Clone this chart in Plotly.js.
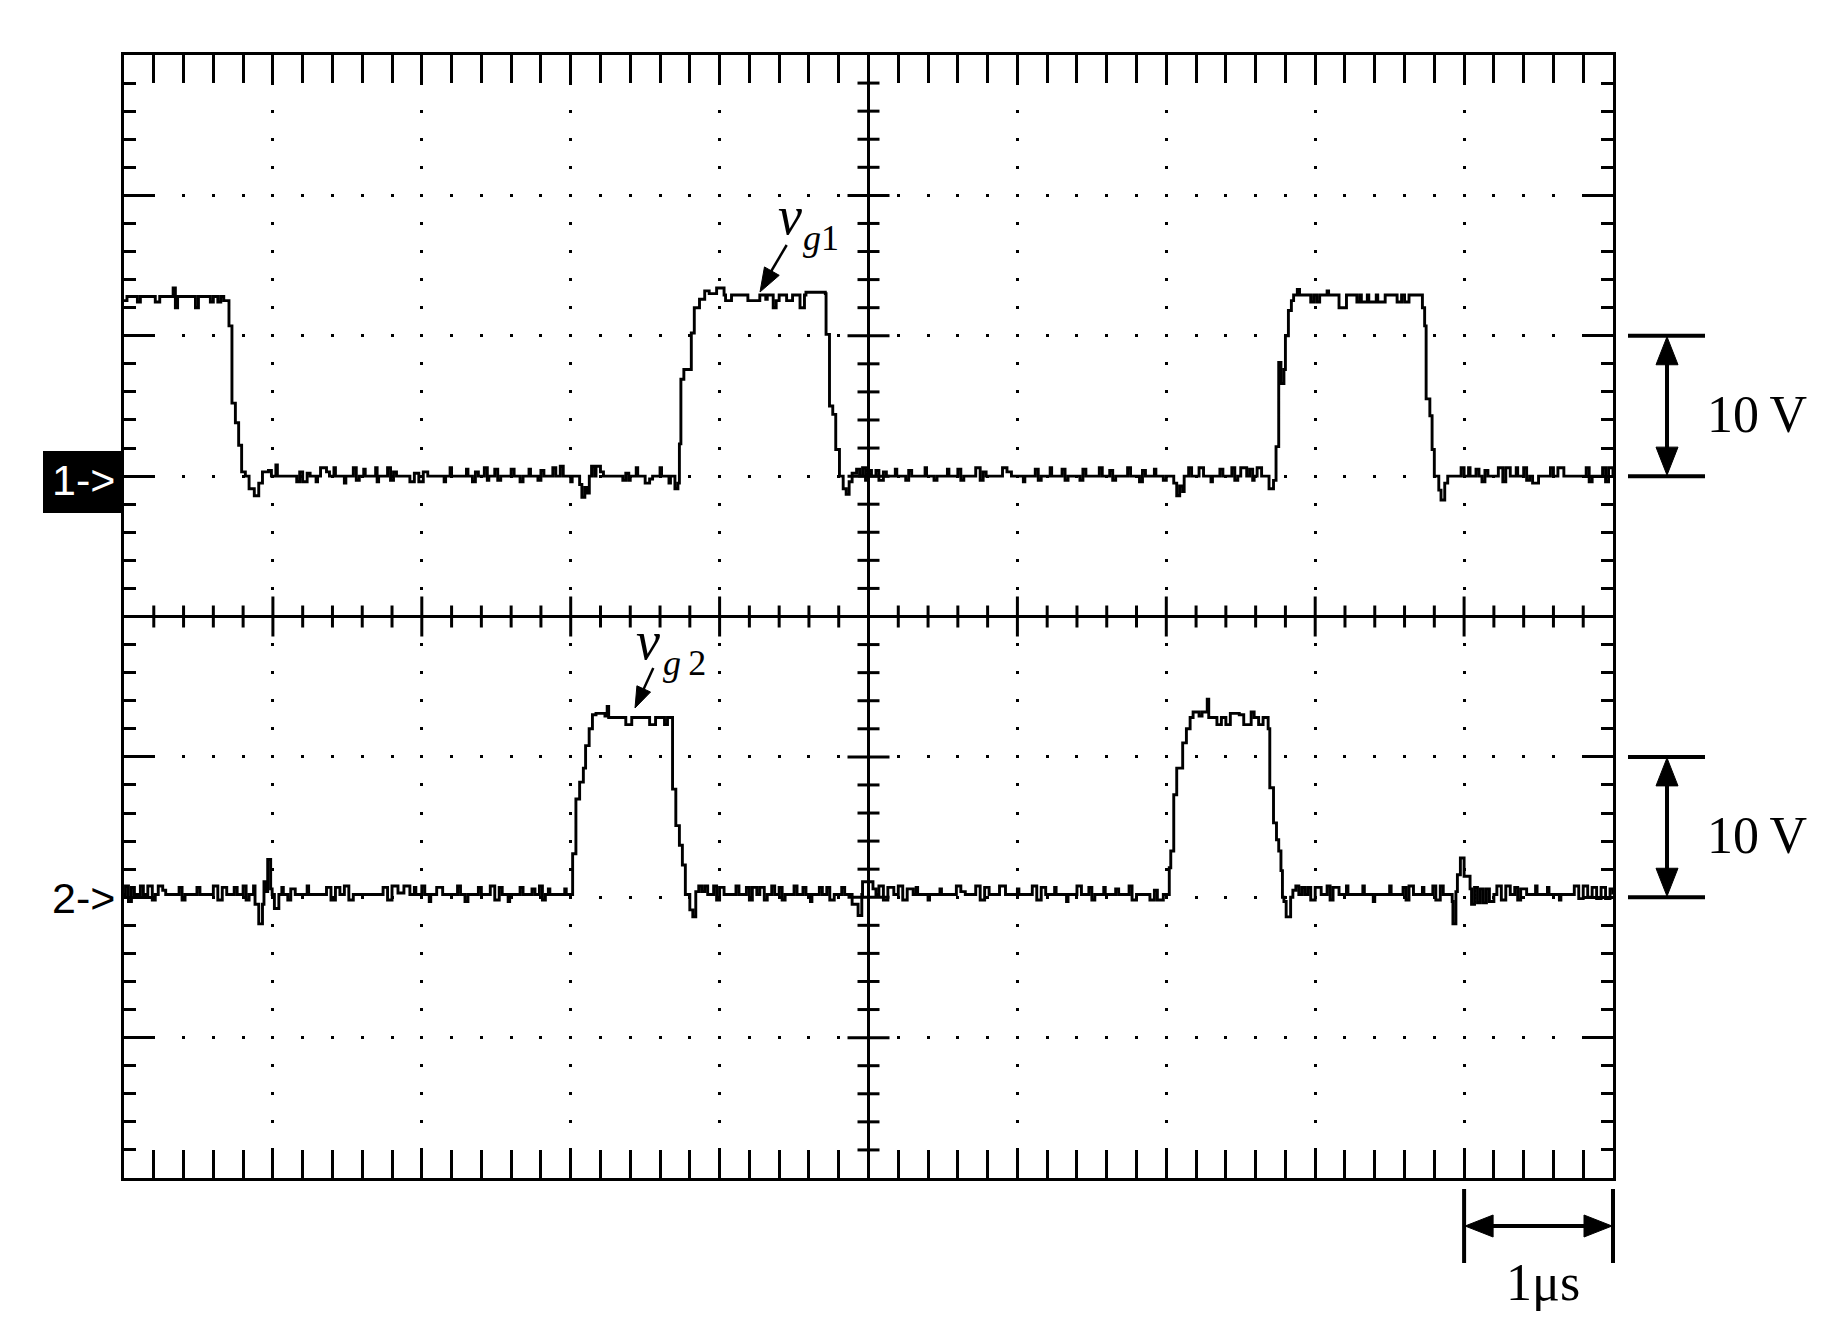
<!DOCTYPE html>
<html><head><meta charset="utf-8">
<script src="https://cdn.plot.ly/plotly-3.0.1.min.js"></script>
<style>html,body{margin:0;padding:0;background:#fff;}#chart{width:1827px;height:1319px;}</style>
</head><body><div id="chart"></div>
<script>
// ---------------- data (time in µs, voltage in V) ----------------
const ch1_t = [0,0.02,0.09,0.11,0.21,0.24,0.33,0.345,0.36,0.48,0.50,0.58,0.60,0.63,0.65,0.67,
 0.705,0.725,0.748,0.77,0.79,0.815,0.84,0.875,0.905,0.93,0.97,
 0.99,1.02,1.03,1.16,1.18,1.20,1.23,1.25,1.29,1.30,1.32,1.36,1.38,1.41,1.42,1.48,1.49,1.54,1.56,1.58,1.61,1.62,1.69,1.70,1.71,1.77,1.79,1.81,1.83,1.92,1.95,1.98,2.01,2.04,2.15,2.16,2.19,2.20,2.30,2.31,2.34,2.36,2.38,2.42,2.44,2.45,2.49,2.51,2.53,2.60,2.62,2.66,2.68,2.72,2.73,2.78,2.80,2.82,2.88,2.90,2.93,2.95,3.00,3.01,3.06,3.075,3.095,3.11,3.125,3.14,3.16,3.17,3.20,3.22,3.35,3.37,3.39,3.40,3.44,3.45,3.50,3.53,3.55,3.60,3.61,3.66,3.67,3.70,3.72,
 3.73,3.74,3.76,3.81,3.83,3.865,3.90,3.93,
 3.98,4.03,4.04,4.08,4.19,4.27,4.31,4.32,4.36,4.38,4.40,4.45,4.49,4.54,4.57,4.58,4.71,
 4.715,4.738,4.76,4.78,4.805,4.83,4.85,4.87,4.89,4.92,4.94,
 4.96,4.98,5.00,5.02,5.05,5.07,5.10,5.12,5.18,5.19,5.25,5.27,5.29,5.38,5.39,5.44,5.46,5.53,5.54,5.60,5.62,5.64,5.72,5.75,5.77,5.79,5.90,5.93,5.96,6.04,6.05,6.12,6.14,6.16,6.22,6.23,6.30,6.32,6.34,6.42,6.44,6.46,6.55,6.57,6.62,6.64,6.66,6.74,6.76,6.82,6.84,6.86,6.92,6.93,6.98,7.00,7.05,7.07,7.09,7.11,7.12,7.15,7.17,7.22,7.25,7.30,7.31,7.36,7.38,7.44,7.46,7.48,7.50,7.54,7.56,7.58,7.59,7.61,7.64,7.69,7.72,
 7.737,7.755,7.77,7.79,7.80,7.82,7.84,7.855,7.88,7.895,
 7.97,7.99,8.01,8.03,8.05,8.08,8.09,8.16,8.21,8.28,8.30,8.31,8.35,8.36,8.41,8.42,8.47,8.55,8.58,8.60,8.63,8.67,
 8.72,8.735,8.745,8.77,8.785,8.80,8.83,8.845,8.87,8.89,8.93,8.98,9.00,9.03,9.04,9.08,9.10,9.12,9.14,9.16,9.23,9.26,9.28,9.31,9.35,9.36,9.40,9.42,9.44,9.46,9.50,9.58,9.60,9.63,9.67,9.82,9.84,9.86,9.93,9.95,9.97,10.0];
const ch1_v = [12.5,12.8,12.4,12.8,12.4,12.8,13.4,12.0,12.8,12.0,12.8,12.4,12.8,12.4,12.8,12.5,
 10.7,5.2,3.8,2.2,0.3,0.0,-0.9,-1.4,-0.5,0.3,0.4,
 0.0,0.8,0.0,-0.4,0.3,-0.4,0.2,0.0,-0.4,0.0,0.6,0.3,0.0,0.6,0.0,-0.5,0.0,0.6,-0.3,0.0,0.5,0.0,0.6,-0.4,0.0,0.6,-0.3,0.3,0.0,-0.4,0.2,-0.4,0.3,0.0,-0.4,0.0,0.6,0.0,0.5,0.0,-0.4,0.3,0.0,0.6,-0.3,0.0,0.5,-0.3,0.0,0.5,0.0,-0.4,0.0,0.5,0.0,-0.3,0.4,0.0,0.6,0.0,0.7,0.0,-0.4,0.0,-0.6,-1.5,-0.8,-1.2,0.0,0.7,0.0,0.7,0.3,0.0,-0.3,0.2,-0.3,0.0,0.6,0.0,-0.5,-0.2,0.0,0.6,0.0,-0.5,0.0,-0.9,-0.5,
 2.3,6.9,7.6,10.2,12.0,12.6,13.2,13.0,
 13.4,12.9,12.5,12.9,12.5,12.9,12.6,12.9,12.0,12.5,12.9,12.5,12.9,12.0,12.9,13.1,13.0,
 10.1,5.0,4.4,1.9,0.0,-0.9,-1.3,-0.4,0.2,0.5,0.0,
 0.6,-0.3,0.4,0.0,0.4,-0.3,0.3,0.0,0.5,0.0,-0.3,0.4,0.0,0.6,0.0,-0.3,0.0,0.5,0.0,0.5,-0.3,0.0,0.6,-0.3,0.3,0.0,0.6,0.3,0.0,-0.4,0.0,0.5,-0.3,0.0,0.6,0.0,0.5,-0.3,0.0,-0.3,0.5,0.0,0.6,0.0,0.4,-0.3,0.0,0.6,0.0,-0.4,0.4,0.0,0.5,0.0,-0.3,0.0,-0.5,-1.4,-0.7,-1.1,0.0,0.6,0.0,0.6,0.0,-0.4,0.0,0.5,0.0,0.6,-0.3,0.0,0.6,0.0,0.5,-0.3,0.0,0.6,0.0,-0.9,-0.3,
 2.1,8.1,6.6,7.6,10.0,11.8,12.5,12.9,13.3,12.9,
 12.4,12.9,12.4,12.9,12.9,13.2,12.9,12.0,12.9,12.4,12.9,12.4,12.9,12.4,12.9,12.4,12.9,12.4,12.9,12.4,12.9,12.9,
 12.0,10.7,5.5,4.3,1.9,0.0,-1.0,-1.7,-0.5,0.0,0.0,0.6,0.0,0.6,0.0,0.5,0.0,-0.4,0.4,0.0,0.6,-0.4,0.6,0.0,0.6,0.0,0.6,-0.3,0.0,-0.5,0.0,0.6,0.0,0.6,0.0,0.6,-0.4,0.0,0.6,-0.4,0.6,0.0];

const ch2_t = [0,0.01,0.03,0.05,0.07,0.11,0.13,0.16,0.19,0.21,0.23,0.26,0.28,0.37,0.39,0.41,0.49,0.51,0.60,0.63,0.66,0.69,0.74,0.76,0.80,0.82,0.84,0.87,0.88,0.905,0.93,0.94,0.955,0.965,0.985,0.995,1.01,1.04,1.06,1.07,1.10,1.12,1.15,1.23,1.24,1.36,1.39,1.42,1.45,1.48,1.51,1.54,1.74,1.77,1.80,1.84,1.88,1.92,1.95,1.96,2.00,2.02,2.05,2.06,2.10,2.14,2.24,2.26,2.29,2.31,2.38,2.40,2.46,2.49,2.52,2.54,2.58,2.59,2.66,2.68,2.74,2.76,2.79,2.81,2.83,2.85,2.86,2.96,2.97,
 3.013,3.035,3.06,3.085,3.10,3.124,3.146,3.17,3.23,3.245,3.255,3.37,3.41,3.53,3.57,3.63,3.65,
 3.684,3.706,3.73,3.75,3.77,3.80,3.82,3.84,3.86,3.88,3.90,3.92,
 3.96,3.98,4.00,4.03,4.11,4.13,4.18,4.20,4.22,4.25,4.27,4.30,4.32,4.35,4.37,4.40,4.42,4.44,4.50,4.52,4.56,4.58,4.61,4.62,4.67,4.69,4.72,4.74,4.77,4.82,4.84,4.89,4.93,4.955,4.96,5.03,5.05,5.07,5.10,5.13,5.17,5.20,5.23,5.26,5.30,5.32,5.33,5.40,5.41,5.48,5.49,5.59,5.62,5.65,5.72,5.75,5.78,5.81,5.88,5.92,6.00,6.01,6.10,6.13,6.16,6.19,6.25,6.26,6.33,6.34,6.40,6.43,6.48,6.50,6.52,6.58,6.59,6.66,6.68,6.75,6.77,6.80,6.89,6.92,6.94,6.98,
 7.02,7.03,7.05,7.07,7.11,7.135,7.16,7.18,7.22,7.24,7.275,7.285,7.34,7.37,7.40,7.43,7.49,7.52,7.57,7.59,7.62,7.65,
 7.684,7.695,7.72,7.74,7.755,7.77,7.78,7.79,7.805,7.835,7.85,7.87,7.89,7.91,7.93,7.95,7.97,8.00,8.04,8.08,8.10,8.12,8.16,8.21,8.22,8.32,8.33,8.39,8.40,8.50,8.51,8.59,8.61,8.63,8.66,8.72,8.73,8.79,8.81,8.84,8.86,8.92,8.925,8.945,8.955,8.975,9.00,9.04,9.05,9.07,9.09,9.11,9.13,9.15,9.17,9.20,9.22,9.25,9.28,9.31,9.34,9.36,9.38,9.42,9.48,9.49,9.56,9.57,9.64,9.65,9.74,9.77,9.80,9.83,9.86,9.89,9.92,9.95,9.98,10.0];
const ch2_v = [0.2,0.8,-0.3,0.7,0.2,0.8,0.2,0.8,-0.2,0.2,0.8,0.5,0.2,0.7,-0.2,0.2,0.7,0.2,0.8,-0.2,0.7,0.2,0.7,0.2,0.8,-0.2,0.2,0.8,-0.5,-1.9,-0.5,1.1,0.4,2.7,0.6,0.2,-0.8,0.2,0.7,0.2,-0.2,0.6,0.2,0.8,0.2,0.7,-0.2,0.7,0.2,0.8,-0.2,0.2,0.7,-0.2,0.8,0.3,0.8,0.2,0.7,0.2,0.8,0.2,-0.3,0.2,0.7,0.2,0.8,0.2,-0.3,0.2,0.7,0.2,0.8,-0.2,0.7,0.2,-0.3,0.2,0.7,0.2,0.6,0.2,0.8,-0.2,0.2,0.6,0.2,0.6,0.2,
 3.1,7.0,8.2,9.2,10.8,12.0,13.0,13.1,12.9,13.6,12.8,12.3,12.8,12.3,12.8,12.3,12.8,
 7.7,5.1,3.7,2.3,0.2,-0.9,-1.4,0.4,0.8,0.4,0.8,0.2,
 0.8,-0.2,0.7,0.2,0.8,0.2,0.7,-0.2,0.7,0.2,0.7,-0.2,0.2,0.8,0.2,0.7,-0.2,0.2,0.8,0.2,0.7,0.2,-0.3,0.2,0.7,0.2,0.7,-0.2,0.2,0.7,0.2,-0.5,-1.3,0.2,1.1,0.6,0.2,0.8,-0.2,0.7,0.2,0.8,-0.2,0.6,0.2,0.7,0.2,-0.2,0.2,0.6,0.2,0.8,0.4,0.2,0.8,-0.2,0.7,0.2,0.8,0.2,0.6,0.2,0.8,-0.2,0.7,0.2,0.7,0.2,-0.3,0.2,0.8,0.2,0.7,-0.2,0.2,0.7,0.2,0.6,0.2,0.8,-0.2,0.2,-0.2,0.5,-0.2,0.2,
 2.1,3.3,7.3,9.2,11.0,12.0,12.8,13.2,12.9,13.2,14.1,12.8,12.3,12.8,12.3,13.1,13.0,12.3,13.2,12.8,12.3,12.8,
 12.0,7.8,5.3,4.1,3.3,1.9,0.0,-0.3,-1.4,0.0,0.5,0.8,0.2,0.7,0.2,0.7,-0.2,0.7,0.2,0.8,-0.2,0.7,0.2,0.8,0.2,0.8,0.2,-0.3,0.2,0.8,0.2,0.7,-0.2,0.8,0.2,0.7,0.2,0.8,-0.2,0.8,0.2,-0.3,-1.9,0.4,1.6,2.8,1.5,0.6,-0.5,0.7,-0.4,0.6,-0.4,0.6,-0.3,0.2,0.8,-0.2,0.8,0.2,0.7,-0.2,0.6,0.2,0.8,0.2,0.7,0.2,-0.2,0.2,0.8,-0.1,0.8,0.0,0.7,-0.1,0.7,-0.1,0.6,0.2];

const time_range = [0, 10];      // µs (1 µs/div)
const ch1_range = [-50, 30];     // V (10 V/div), channel 1 ground 3 div below top
const ch2_range = [-20, 60];     // V (10 V/div), channel 2 ground 2 div above bottom
const volt_scale = 10;           // V per div
const time_scale = 1;            // µs per div
const ch_markers = ['1->', '2->'];
const scale_labels = ['10\u2009V', '1\u03bcs'];
const trace_labels = [['v','g','1'], ['v','g','2']];

// ---------------- geometry ----------------
const L = 124, T = 55, W = 1489, H = 1123, B = T + H;
const fx = t => L + (t - time_range[0]) / (time_range[1] - time_range[0]) * W;
const fy1 = v => T + (ch1_range[1] - v) / (ch1_range[1] - ch1_range[0]) * H;
const fy2 = v => T + (ch2_range[1] - v) / (ch2_range[1] - ch2_range[0]) * H;
const PX = x => (x - L) / W, PY = y => (B - y) / H;

const shapes = [];
function seg(x0, y0, x1, y1, w) {
  shapes.push({type:'line', xref:'paper', yref:'paper', x0:PX(x0), y0:PY(y0), x1:PX(x1), y1:PY(y1),
    line:{color:'black', width:w}});
}
function head(tx, ty, sx, sy, len, wid) {
  const dx = sx - tx, dy = sy - ty, d = Math.hypot(dx, dy), ux = dx / d, uy = dy / d;
  const bx = tx + ux * len, by = ty + uy * len, nx = -uy * wid / 2, ny = ux * wid / 2;
  const p = [[tx, ty], [bx + nx, by + ny], [bx - nx, by - ny]];
  shapes.push({type:'path', xref:'paper', yref:'paper',
    path:'M' + p.map(q => PX(q[0]) + ',' + PY(q[1])).join('L') + 'Z',
    fillcolor:'black', line:{color:'black', width:1}});
}

// centre crosshair (solid) with ticks every 0.2 div
const xc = (time_range[0] + time_range[1]) / 2, yc = (ch1_range[0] + ch1_range[1]) / 2;
shapes.push({type:'line', xref:'x', yref:'paper', x0:xc, x1:xc, y0:0, y1:1, line:{color:'black', width:3}});
shapes.push({type:'line', xref:'paper', yref:'y', x0:0, x1:1, y0:yc, y1:yc, line:{color:'black', width:3}});
for (let i = 1; i < 50; i++) {
  if (i === 25) continue;
  const t = time_range[0] + i * 0.2 * time_scale, len = (i % 5 === 0) ? 20 : 11;
  shapes.push({type:'line', xref:'x', yref:'y', x0:t, x1:t, ysizemode:'pixel', yanchor:yc, y0:-len, y1:len,
    line:{color:'black', width:3}});
}
for (let i = 1; i < 40; i++) {
  if (i === 20) continue;
  const v = ch1_range[0] + i * 0.2 * volt_scale, len = (i % 5 === 0) ? 21 : 11;
  shapes.push({type:'line', xref:'x', yref:'y', y0:v, y1:v, xsizemode:'pixel', xanchor:xc, x0:-len, x1:len,
    line:{color:'black', width:3}});
}

// channel marker box
shapes.push({type:'rect', xref:'paper', yref:'paper', x0:PX(43), x1:PX(123), y0:PY(451), y1:PY(513),
  fillcolor:'black', line:{width:0}});

// 10 V scale bars (channel 1 and 2)
function vbar(yTop, yBot) {
  seg(1628, yTop, 1705, yTop, 4);
  seg(1628, yBot, 1705, yBot, 4);
  seg(1667, yTop + 20, 1667, yBot - 20, 4);
  head(1667, yTop + 1, 1667, yBot, 28, 22);
  head(1667, yBot - 1, 1667, yTop, 28, 22);
}
vbar(fy1(volt_scale), fy1(0));
vbar(fy2(volt_scale), fy2(0));
// 1 µs bar
const xa = fx(time_range[1] - time_scale), xb = fx(time_range[1]);
seg(xa, 1189, xa, 1263, 4);
seg(xb, 1189, xb, 1263, 4);
seg(xa + 20, 1226, xb - 20, 1226, 4);
head(xa + 1, 1226, xb, 1226, 28, 22);
head(xb - 1, 1226, xa, 1226, 28, 22);

// pointer arrows for v_g1 / v_g2
seg(786.7, 245, 766, 280, 2.5);
head(760, 292, 786.7, 245, 24, 17);
seg(653.3, 668, 640, 697, 2.5);
head(635, 708, 653.3, 668, 21, 15);

const serif = 'Liberation Serif, Times New Roman, serif';
const sans = 'Liberation Sans, Arial, sans-serif';
const ann = (x, y, text, size, family, color, xanchor) => ({xref:'paper', yref:'paper', x:PX(x), y:PY(y),
  text, showarrow:false, xanchor:xanchor || 'center', yanchor:'middle', font:{family, size, color:color || 'black'}});

const annotations = [
  ann(83, 480, ch_markers[0], 43, sans, 'white'),
  ann(83, 898, ch_markers[1], 43, sans),
  ann(1757, 414, scale_labels[0], 52, serif),
  ann(1757, 835, scale_labels[0], 52, serif),
  ann(1543, 1282, scale_labels[1], 52, serif),
  ann(790, 216, '<i>' + trace_labels[0][0] + '</i>', 54, serif),
  ann(801, 238, '<i>' + trace_labels[0][1] + '</i>' + trace_labels[0][2], 36, serif, 'black', 'left'),
  ann(648, 641, '<i>' + trace_labels[1][0] + '</i>', 54, serif),
  ann(661, 663, '<i>' + trace_labels[1][1] + '</i>\u2009' + trace_labels[1][2], 36, serif, 'black', 'left')
];

const axBase = {showline:true, linecolor:'black', linewidth:3, mirror:'allticks', ticks:'inside',
  tickcolor:'black', tickwidth:3, showticklabels:false, zeroline:false, showgrid:true,
  gridcolor:'black', gridwidth:3, fixedrange:true};

const layout = {
  width:1827, height:1319, autosize:false,
  margin:{l:L, r:1827 - L - W, t:T, b:1319 - B, pad:0},
  paper_bgcolor:'white', plot_bgcolor:'white', showlegend:false,
  xaxis: Object.assign({}, axBase, {range:time_range, tick0:0, dtick:time_scale, ticklen:28,
    griddash:'1.5px,25.075px,1.5px,0px',
    minor:{dtick:0.2 * time_scale, ticks:'inside', ticklen:13, tickwidth:3, tickcolor:'black', showgrid:false}}),
  yaxis: Object.assign({}, axBase, {range:ch1_range, tick0:0, dtick:volt_scale, ticklen:31,
    griddash:'1.5px,26.78px,1.5px,0px',
    minor:{dtick:0.2 * volt_scale, ticks:'inside', ticklen:12, tickwidth:3, tickcolor:'black', showgrid:false}}),
  yaxis2: {overlaying:'y', range:ch2_range, showgrid:false, zeroline:false, showline:false,
    showticklabels:false, ticks:'', fixedrange:true},
  shapes, annotations
};

const traces = [
  {x:ch1_t, y:ch1_v, type:'scatter', mode:'lines', xaxis:'x', yaxis:'y', name:'v_g1',
   line:{color:'black', width:2.9, shape:'hv'}, hoverinfo:'skip'},
  {x:ch2_t, y:ch2_v, type:'scatter', mode:'lines', xaxis:'x', yaxis:'y2', name:'v_g2',
   line:{color:'black', width:2.9, shape:'hv'}, hoverinfo:'skip'}
];

Plotly.newPlot('chart', traces, layout, {staticPlot:true, displayModeBar:false});
</script>
</body></html>
